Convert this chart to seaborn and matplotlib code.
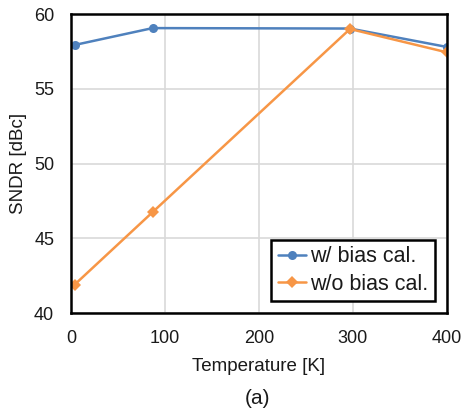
import numpy as np
import pandas as pd
import matplotlib
matplotlib.use("Agg")
import matplotlib.pyplot as plt
import seaborn as sns

# data
temp_k = [4, 87, 297, 400]
sndr_with_cal = [57.93, 59.06, 59.03, 57.8]
sndr_without_cal = [41.9, 46.75, 59.0, 57.44]
series_names = ["w/ bias cal.", "w/o bias cal."]

df = pd.DataFrame({
    "Temperature": temp_k * 2,
    "SNDR": sndr_with_cal + sndr_without_cal,
    "series": [series_names[0]] * 4 + [series_names[1]] * 4,
})

sns.set_theme(style="whitegrid")
plt.rcParams['font.family'] = ['Liberation Sans', 'DejaVu Sans']
plt.rcParams['text.color'] = '#1a1a1a'
plt.rcParams['axes.labelcolor'] = '#1a1a1a'
plt.rcParams['xtick.color'] = '#1a1a1a'
plt.rcParams['ytick.color'] = '#1a1a1a'

fig = plt.figure(figsize=(4.63, 4.13), dpi=100)
ax = fig.add_axes([0.153, 0.242, 0.812, 0.724])

palette = {series_names[0]: "#4F81BD", series_names[1]: "#F79646"}
sns.lineplot(data=df, x="Temperature", y="SNDR", hue="series", style="series",
             markers={series_names[0]: "o", series_names[1]: "D"},
             dashes=False, palette=palette, linewidth=1.8, markersize=6.5,
             markeredgewidth=0, ax=ax)

ax.set_xlim(0, 400)
ax.set_ylim(40, 60)
ax.set_xticks([0, 100, 200, 300, 400])
ax.set_yticks([40, 45, 50, 55, 60])
ax.tick_params(axis="x", labelsize=13, length=0, pad=12)
ax.tick_params(axis="y", labelsize=13, length=0, pad=12)
ax.set_xlabel("Temperature [K]", fontsize=13.5, labelpad=8)
ax.set_ylabel("SNDR [dBc]", fontsize=13.5, labelpad=5)
ax.grid(color="#d9d9d9", linewidth=1.2)
for s in ax.spines.values():
    s.set_color("black")
    s.set_linewidth(1.8)

leg = ax.legend(loc="lower right", fontsize=15.5, frameon=True, fancybox=False,
                handlelength=1.3, handletextpad=0.2, borderpad=0.3,
                labelspacing=0.3, borderaxespad=0.55)
leg.get_frame().set_edgecolor("black")
leg.get_frame().set_linewidth(1.8)
leg.get_frame().set_alpha(1)

fig.text(0.557, 0.022, "(a)", ha="center", fontsize=15)

fig.savefig("out.png", dpi=100)
